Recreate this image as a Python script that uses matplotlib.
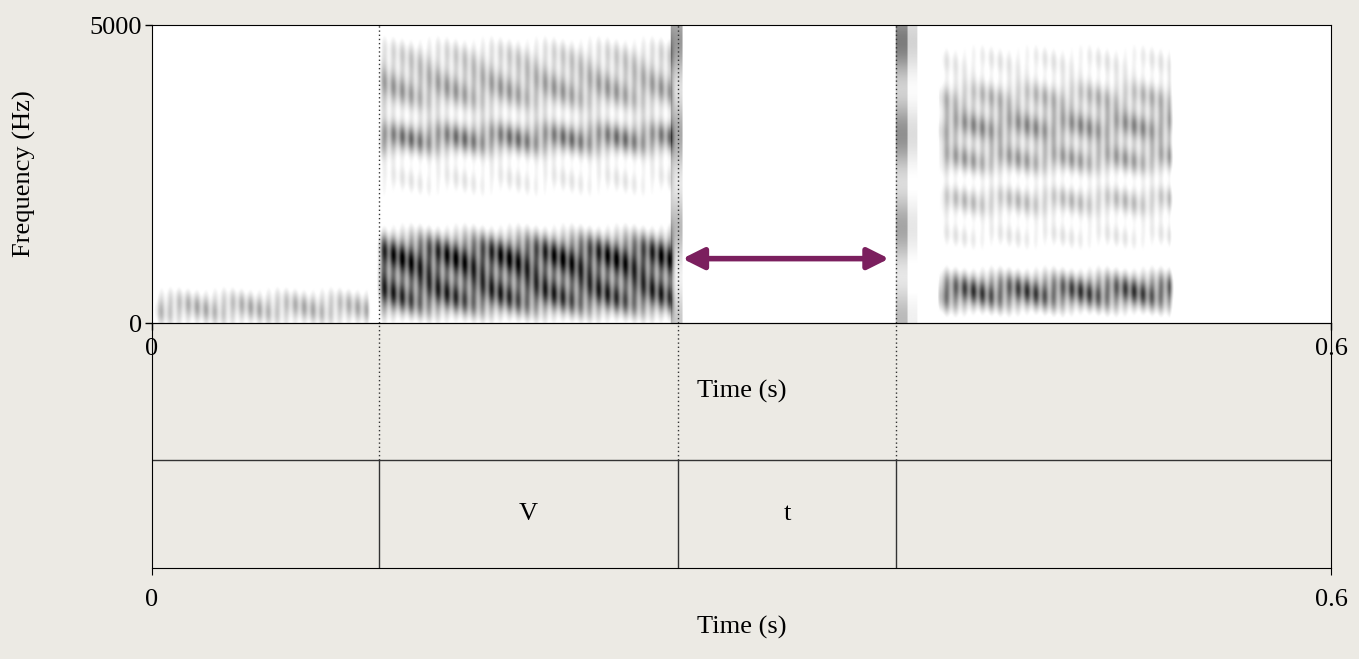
import numpy as np
import matplotlib.pyplot as plt
from matplotlib.colors import LinearSegmentedColormap

# ---- data ----
t_max = 0.6
f_max = 5000
boundaries = [0.1155, 0.2677, 0.3786]
labels = ["", "V", "t", ""]
seg_starts = [0.0, 0.1140, 0.3995]
seg_ends = [0.1125, 0.2665, 0.521]
seg_formants = [
    [(250, 220, 0.4)],
    [(450, 250, 0.8), (1100, 280, 0.95), (2400, 250, 0.2), (3100, 200, 0.6),
     (3900, 280, 0.45), (4500, 250, 0.25)],
    [(520, 220, 0.8), (1450, 200, 0.2), (2050, 200, 0.35), (2750, 200, 0.45),
     (3300, 200, 0.5), (3800, 200, 0.35), (4400, 250, 0.2)],
]
bursts = [(0.264, 0.270, 0.45), (0.3785, 0.3845, 0.55), (0.3845, 0.3895, 0.25)]
arrow_t = (0.2685, 0.3765)
arrow_f = 1080

# ---- build spectrogram image ----
nt, nf = 1200, 400
tt = np.linspace(0, t_max, nt)
ff = np.linspace(0, f_max, nf)
T, F = np.meshgrid(tt, ff)
S = np.zeros_like(T)
for s, e, forms in zip(seg_starts, seg_ends, seg_formants):
    m = (T >= s) & (T <= e)
    edge = np.clip(np.minimum(T - s, e - T) / 0.003, 0, 1)
    val = np.zeros_like(T)
    for fc, bw, a in forms:
        val += a * np.exp(-0.5 * ((F - fc) / bw) ** 2)
    stri = 0.6 + 0.4 * np.cos(np.pi * T * 220) ** 2
    wob = 0.85 + 0.15 * np.sin(2 * np.pi * (T * 37 + F / 700))
    S += np.where(m, val * stri * wob * edge, 0)
for s, e, a in bursts:
    m = (T >= s) & (T <= e)
    S += np.where(m, a * (0.5 + 0.5 * np.cos(F / 500) ** 2) * (0.6 + 0.4 * F / f_max), 0)
S = np.clip((S - 0.1) / 0.85, 0, 1)
cmap = LinearSegmentedColormap.from_list("p", ["white", "black"])

# ---- figure ----
bg = "#ECEAE4"
fig = plt.figure(figsize=(13.59, 6.59), dpi=100, facecolor=bg)
plt.rcParams['font.family'] = ['Liberation Serif', 'DejaVu Serif']
fs = 19

ax = fig.add_axes([152/1359, 1-323/659, 1179/1359, 298/659])
ax.imshow(S, origin="lower", aspect="auto", cmap=cmap, vmin=0, vmax=1,
          extent=[0, t_max, 0, f_max], interpolation="bilinear")
ax.set_xlim(0, t_max); ax.set_ylim(0, f_max)
ax.set_yticks([0, f_max]); ax.set_yticklabels(["0", "5000"], fontsize=fs)
ax.set_xticks([0, t_max]); ax.set_xticklabels(["0", "0.6"], fontsize=fs)
ax.tick_params(axis="x", length=5, width=1, pad=6)
ax.tick_params(axis="y", length=5, width=1, pad=2)
ax.set_ylabel("Frequency (Hz)", fontsize=fs, labelpad=-6)
ax.yaxis.set_label_coords(-0.098, 0.5)
ax.set_xlabel("Time (s)", fontsize=fs, labelpad=14)
ax.annotate("", xy=(arrow_t[0], arrow_f), xytext=(arrow_t[1], arrow_f),
            arrowprops=dict(arrowstyle="<|-|>", color="#7B1F5E", lw=4,
                            mutation_scale=32))

tg = fig.add_axes([152/1359, 1-568/659, 1179/1359, 245/659])
tg.set_facecolor("none")
tg.set_xlim(0, t_max); tg.set_ylim(0, 1)
tier = (568-460)/245
tg.axhline(tier, color="#333333", lw=1)
for b in boundaries:
    tg.plot([b, b], [0, tier], color="#333333", lw=1)
    tg.plot([b, b], [tier, 1], color="#333333", lw=1, ls=(0, (1, 2)))
    ax.axvline(b, color="#333333", lw=1, ls=(0, (1, 2)))
edges = [0] + boundaries + [t_max]
for i, lab in enumerate(labels):
    if lab:
        tg.text((edges[i]+edges[i+1])/2, tier/2, lab, ha="center", va="center", fontsize=fs)
tg.set_yticks([])
tg.set_xticks([0, t_max]); tg.set_xticklabels(["0", "0.6"], fontsize=fs)
tg.tick_params(length=5, pad=10)
tg.set_xlabel("Time (s)", fontsize=fs, labelpad=4)

fig.savefig("out.png", dpi=100, facecolor=bg)
